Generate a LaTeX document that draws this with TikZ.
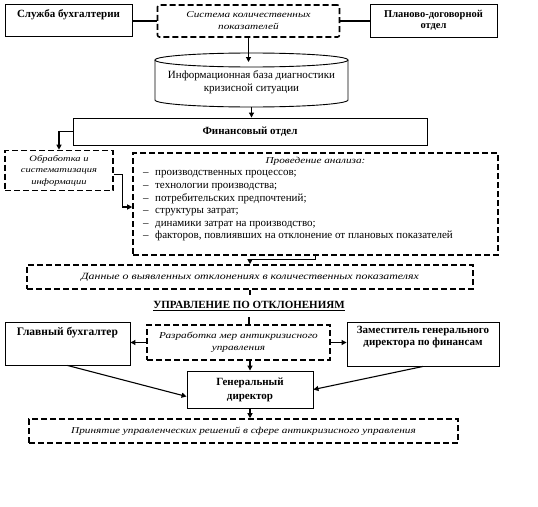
\documentclass[tikz,border=0pt]{standalone}
\usepackage{fontspec}
\setmainfont{Liberation Serif}
\newfontfamily\itw{Liberation Serif}[FakeStretch=1.25]
\usetikzlibrary{arrows.meta}
\tikzset{
  sbox/.style={draw, line width=0.9pt, inner sep=0pt},
  dbox/.style={draw, line width=1.6pt, dash pattern=on 6pt off 3pt, inner sep=0pt},
  arr/.style={line width=1.1pt, -{Triangle[length=5pt,width=5pt]}},
  ln/.style={line width=1.1pt},
  bt/.style={font=\fontsize{11}{12}\selectfont\bfseries, align=center, inner sep=0pt},
  itx/.style={font=\itw\itshape\fontsize{9}{12}\selectfont, align=center, inner sep=0pt},
  nt/.style={font=\fontsize{11}{13}\selectfont, align=center, inner sep=0pt},
}
\begin{document}
\begin{tikzpicture}[x=1pt,y=-1pt]
\fill[white] (0,0) rectangle (538,506);
\useasboundingbox (0,0) rectangle (538,506);
% top row
\node[sbox, minimum width=127, minimum height=32] (sb) at (68.5,20) {};
\node[bt] (sbt) at (68.5,15) {Служба бухгалтерии};
\node[dbox, rounded corners=2pt, minimum width=182, minimum height=32, itx] (sys) at (248.5,21) {Система количественных\\показателей};
\node[sbox, minimum width=127, minimum height=33, bt, font=\fontsize{10.5}{11.5}\selectfont\bfseries] (pl) at (433.5,20.5) {Планово-договорной\\отдел};
\draw[ln] (sys.west) -- (sys.west -| sb.east);
\draw[ln] (sys.east) -- (sys.east -| pl.west);
% cylinder
\draw[line width=0.9pt] (155,60) -- (155,100) arc[start angle=180, end angle=0, x radius=96.5, y radius=7] -- (348,60);
\draw[line width=0.9pt] (251.5,60) ellipse [x radius=96.5, y radius=7];
\coordinate (cyltop) at (251.5,62);
\coordinate (cylbot) at (251.5,107);
\node[nt] (cyl) at (251.5,82) {Информационная база диагностики\\кризисной ситуации};
\draw[arr] (sys.south) -- (sys.south |- cyltop);
% finance
\node[sbox, minimum width=354, minimum height=27, bt] (fin) at (250,131.5) {Финансовый отдел};
\draw[arr] (cylbot) -- (cylbot |- fin.north);
% processing
\node[dbox, minimum width=108, minimum height=40, itx, font=\itw\itshape\fontsize{8.4}{11.5}\selectfont] (obr) at (59,170.5) {Обработка и\\систематизация\\информации};
\node[dbox, minimum width=365, minimum height=102] (pro) at (315.5,204) {};
\node[itx] (proh) at (315.5,161) {Проведение анализа:};
\node[anchor=north west, align=left, inner sep=0pt, font=\fontsize{11}{12.6}\selectfont] (list) at (143,170.5) {%
\makebox[12pt][l]{–}производственных процессов;\\
\makebox[12pt][l]{–}технологии производства;\\
\makebox[12pt][l]{–}потребительских предпочтений;\\
\makebox[12pt][l]{–}структуры затрат;\\
\makebox[12pt][l]{–}динамики затрат на производство;\\
\makebox[12pt][l]{–}факторов, повлиявших на отклонение от плановых показателей};
\draw[arr] (fin.west) -| (obr.north);
\draw[arr] ([yshift=-4pt]obr.east) -- ++(9,0) |- ([yshift=-3pt]pro.west);
% data
\node[dbox, minimum width=446, minimum height=24, itx, font=\itw\itshape\fontsize{9.5}{12}\selectfont] (dan) at (250,277) {Данные о выявленных отклонениях в количественных показателях};
\draw[arr] (pro.south) -- ++(0,4) -| (dan.north);
% title
\node[font=\fontsize{11}{13}\selectfont\bfseries, inner sep=0pt, minimum height=22] (title) at (249,306) {\underline{УПРАВЛЕНИЕ ПО ОТКЛОНЕНИЯМ}};
\draw[ln] (dan.south) -- (dan.south |- title.north);
% management
\node[dbox, minimum width=183, minimum height=35, itx] (raz) at (238.5,342.5) {Разработка мер антикризисного\\управления};
\draw[ln] (title.south) -- (title.south |- raz.north);
\node[sbox, minimum width=125, minimum height=43] (glb) at (67.5,343.5) {};
\node[bt, font=\fontsize{11.5}{12}\selectfont\bfseries] (glbt) at (67.5,333) {Главный бухгалтер};
\node[sbox, minimum width=152, minimum height=44] (zam) at (423,344) {};
\node[bt] (zamt) at (423,337) {Заместитель генерального\\директора по финансам};
\node[sbox, minimum width=126, minimum height=37, bt, font=\fontsize{11}{14}\selectfont\bfseries] (gen) at (250,389.5) {Генеральный\\директор};
\draw[arr] (raz.west) -- (raz.west -| glb.east);
\draw[arr] (raz.east) -- (raz.east -| zam.west);
\draw[arr] (raz.south -| gen.north) -- (gen.north);
\draw[arr] (glb.south) -- ([yshift=-7pt]gen.west);
\draw[arr] (zam.south) -- (gen.east);
% decision
\node[dbox, minimum width=429, minimum height=24, itx] (pri) at (243.5,431) {Принятие управленческих решений в сфере антикризисного управления};
\draw[arr] (gen.south) -- (gen.south |- pri.north);
\end{tikzpicture}
\end{document}
